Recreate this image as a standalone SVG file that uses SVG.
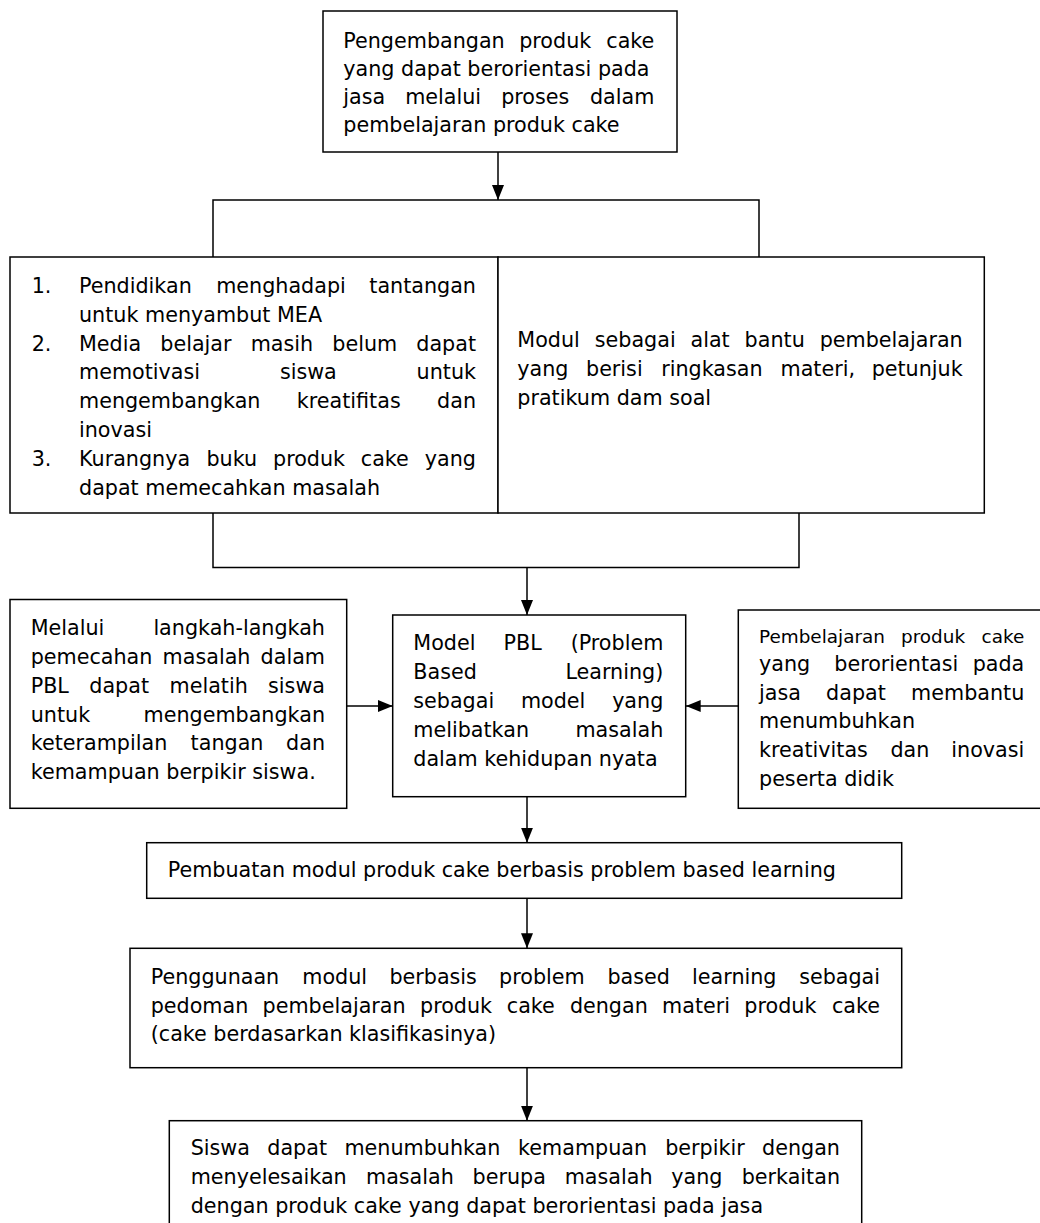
<svg xmlns="http://www.w3.org/2000/svg" width="1040" height="1223" viewBox="0 0 1040 1223">
<style>
.t{font-family:"DejaVu Sans",Verdana,"Liberation Sans",sans-serif;font-size:20.7px;fill:#000}
.s{font-size:18.4px}
.box{fill:#fff;stroke:#000;stroke-width:1.5}
.ln{fill:none;stroke:#000;stroke-width:1.5}
.e{text-anchor:end}
</style>
<defs>
<marker id="ah" viewBox="0 0 15 12" refX="15" refY="6" markerWidth="15" markerHeight="12" markerUnits="userSpaceOnUse" orient="auto">
<path d="M0,0 L15,6 L0,12 z" fill="#000"/>
</marker>
<clipPath id="clipBottom"><rect x="0" y="0" width="1040" height="1217"/></clipPath>
</defs>
<rect width="1040" height="1223" fill="#fff"/>

<g id="connectors">
<line class="ln" x1="498" y1="152" x2="498" y2="200" marker-end="url(#ah)"/>
<polyline class="ln" points="213,257 213,200 759,200 759,257"/>
<polyline class="ln" points="213,513 213,567.5 799,567.5 799,513"/>
<line class="ln" x1="527" y1="567.5" x2="527" y2="615" marker-end="url(#ah)"/>
<line class="ln" x1="347" y1="706" x2="392.7" y2="706" marker-end="url(#ah)"/>
<line class="ln" x1="738.3" y1="706" x2="685.7" y2="706" marker-end="url(#ah)"/>
<line class="ln" x1="527" y1="797" x2="527" y2="842.7" marker-end="url(#ah)"/>
<line class="ln" x1="527" y1="898.3" x2="527" y2="948.3" marker-end="url(#ah)"/>
<line class="ln" x1="527" y1="1067.7" x2="527" y2="1120.7" marker-end="url(#ah)"/>
</g>

<g id="node-top">
<rect class="box" x="323" y="11" width="354" height="141"/>
<text class="t"><tspan x="343.3" y="47.7">Pengembangan</tspan><tspan x="519.2" y="47.7">produk</tspan><tspan class="e" x="654.3" y="47.7">cake</tspan></text>
<text class="t" x="343.3" y="76">yang dapat berorientasi pada</text>
<text class="t"><tspan x="343.3" y="104">jasa</tspan><tspan x="405.2" y="104">melalui</tspan><tspan x="501.2" y="104">proses</tspan><tspan class="e" x="654.3" y="104">dalam</tspan></text>
<text class="t" x="343.3" y="132.3">pembelajaran produk cake</text>
</g>

<g id="node-problems">
<rect class="box" x="10" y="257" width="488" height="256"/>
<text class="t" x="31.7" y="292.7">1.</text>
<text class="t"><tspan x="79" y="292.7">Pendidikan</tspan><tspan x="216.2" y="292.7">menghadapi</tspan><tspan class="e" x="476" y="292.7">tantangan</tspan></text>
<text class="t" x="79" y="321.7">untuk menyambut MEA</text>
<text class="t" x="31.7" y="350.7">2.</text>
<text class="t"><tspan x="79" y="350.7">Media</tspan><tspan x="160.3" y="350.7">belajar</tspan><tspan x="250.7" y="350.7">masih</tspan><tspan x="332.3" y="350.7">belum</tspan><tspan class="e" x="476" y="350.7">dapat</tspan></text>
<text class="t"><tspan x="79" y="379.3">memotivasi</tspan><tspan x="279.9" y="379.3">siswa</tspan><tspan class="e" x="476" y="379.3">untuk</tspan></text>
<text class="t"><tspan x="79" y="408">mengembangkan</tspan><tspan x="296.8" y="408">kreatifitas</tspan><tspan class="e" x="476" y="408">dan</tspan></text>
<text class="t" x="79" y="436.7">inovasi</text>
<text class="t" x="31.7" y="466">3.</text>
<text class="t"><tspan x="79" y="466">Kurangnya</tspan><tspan x="206.4" y="466">buku</tspan><tspan x="273" y="466">produk</tspan><tspan x="360.8" y="466">cake</tspan><tspan class="e" x="476" y="466">yang</tspan></text>
<text class="t" x="79" y="495">dapat memecahkan masalah</text>
</g>

<g id="node-modul">
<rect class="box" x="498" y="257" width="486.3" height="256"/>
<text class="t"><tspan x="517.3" y="346.7">Modul</tspan><tspan x="594.8" y="346.7">sebagai</tspan><tspan x="690.5" y="346.7">alat</tspan><tspan x="744.6" y="346.7">bantu</tspan><tspan class="e" x="962.7" y="346.7">pembelajaran</tspan></text>
<text class="t"><tspan x="517.3" y="376">yang</tspan><tspan x="586" y="376">berisi</tspan><tspan x="661.2" y="376">ringkasan</tspan><tspan x="780.5" y="376">materi,</tspan><tspan class="e" x="962.7" y="376">petunjuk</tspan></text>
<text class="t" x="517.3" y="405">pratikum dam soal</text>
</g>

<g id="node-langkah">
<rect class="box" x="10" y="599.5" width="336.7" height="208.8"/>
<text class="t"><tspan x="30.7" y="635">Melalui</tspan><tspan class="e" x="325" y="635">langkah-langkah</tspan></text>
<text class="t"><tspan x="30.7" y="664.3">pemecahan</tspan><tspan x="162.6" y="664.3">masalah</tspan><tspan class="e" x="325" y="664.3">dalam</tspan></text>
<text class="t"><tspan x="30.7" y="692.7">PBL</tspan><tspan x="89.3" y="692.7">dapat</tspan><tspan x="169.5" y="692.7">melatih</tspan><tspan class="e" x="325" y="692.7">siswa</tspan></text>
<text class="t"><tspan x="30.7" y="721.7">untuk</tspan><tspan class="e" x="325" y="721.7">mengembangkan</tspan></text>
<text class="t"><tspan x="30.7" y="750">keterampilan</tspan><tspan x="190.6" y="750">tangan</tspan><tspan class="e" x="325" y="750">dan</tspan></text>
<text class="t" x="30.7" y="779.3">kemampuan berpikir siswa.</text>
</g>

<g id="node-pbl">
<rect class="box" x="392.7" y="615" width="293" height="181.7"/>
<text class="t"><tspan x="413.3" y="650">Model</tspan><tspan x="503.5" y="650">PBL</tspan><tspan class="e" x="663.3" y="650">(Problem</tspan></text>
<text class="t"><tspan x="413.3" y="679">Based</tspan><tspan class="e" x="663.3" y="679">Learning)</tspan></text>
<text class="t"><tspan x="413.3" y="708.3">sebagai</tspan><tspan x="520.9" y="708.3">model</tspan><tspan class="e" x="663.3" y="708.3">yang</tspan></text>
<text class="t"><tspan x="413.3" y="737.3">melibatkan</tspan><tspan class="e" x="663.3" y="737.3">masalah</tspan></text>
<text class="t" x="413.3" y="765.7">dalam kehidupan nyata</text>
</g>

<g id="node-orientasi">
<rect class="box" x="738.3" y="610" width="310" height="198.3"/>
<text class="t s"><tspan x="759" y="642.7">Pembelajaran</tspan><tspan x="901" y="642.7">produk</tspan><tspan class="e" x="1024.3" y="642.7">cake</tspan></text>
<text class="t"><tspan x="759" y="670.7">yang</tspan><tspan x="834.3" y="670.7">berorientasi</tspan><tspan class="e" x="1024.3" y="670.7">pada</tspan></text>
<text class="t"><tspan x="759" y="700">jasa</tspan><tspan x="826.1" y="700">dapat</tspan><tspan class="e" x="1024.3" y="700">membantu</tspan></text>
<text class="t" x="759" y="728.3">menumbuhkan</text>
<text class="t"><tspan x="759" y="757.3">kreativitas</tspan><tspan x="890.4" y="757.3">dan</tspan><tspan class="e" x="1024.3" y="757.3">inovasi</tspan></text>
<text class="t" x="759" y="786">peserta didik</text>
</g>

<g id="node-pembuatan">
<rect class="box" x="146.7" y="842.7" width="755" height="55.6"/>
<text class="t" x="167.7" y="876.7">Pembuatan modul produk cake berbasis problem based learning</text>
</g>

<g id="node-penggunaan">
<rect class="box" x="130" y="948.3" width="771.7" height="119.4"/>
<text class="t"><tspan x="150.7" y="984">Penggunaan</tspan><tspan x="302.3" y="984">modul</tspan><tspan x="389.4" y="984">berbasis</tspan><tspan x="499.1" y="984">problem</tspan><tspan x="607.4" y="984">based</tspan><tspan x="692.1" y="984">learning</tspan><tspan class="e" x="880" y="984">sebagai</tspan></text>
<text class="t"><tspan x="150.7" y="1012.7">pedoman</tspan><tspan x="262.6" y="1012.7">pembelajaran</tspan><tspan x="420" y="1012.7">produk</tspan><tspan x="506.8" y="1012.7">cake</tspan><tspan x="569.9" y="1012.7">dengan</tspan><tspan x="662.1" y="1012.7">materi</tspan><tspan x="744.3" y="1012.7">produk</tspan><tspan class="e" x="880" y="1012.7">cake</tspan></text>
<text class="t" x="150.7" y="1041">(cake berdasarkan klasifikasinya)</text>
</g>

<g id="node-siswa">
<rect class="box" x="169.3" y="1120.7" width="692.4" height="120"/>
<g clip-path="url(#clipBottom)">
<text class="t"><tspan x="190.7" y="1155">Siswa</tspan><tspan x="267.3" y="1155">dapat</tspan><tspan x="344.4" y="1155">menumbuhkan</tspan><tspan x="518.1" y="1155">kemampuan</tspan><tspan x="665.2" y="1155">berpikir</tspan><tspan class="e" x="840" y="1155">dengan</tspan></text>
<text class="t"><tspan x="190.7" y="1184.3">menyelesaikan</tspan><tspan x="366" y="1184.3">masalah</tspan><tspan x="472.6" y="1184.3">berupa</tspan><tspan x="564.7" y="1184.3">masalah</tspan><tspan x="671.3" y="1184.3">yang</tspan><tspan class="e" x="840" y="1184.3">berkaitan</tspan></text>
<text class="t" x="190.7" y="1212.7">dengan produk cake yang dapat berorientasi pada jasa</text>
</g>
</g>
</svg>
